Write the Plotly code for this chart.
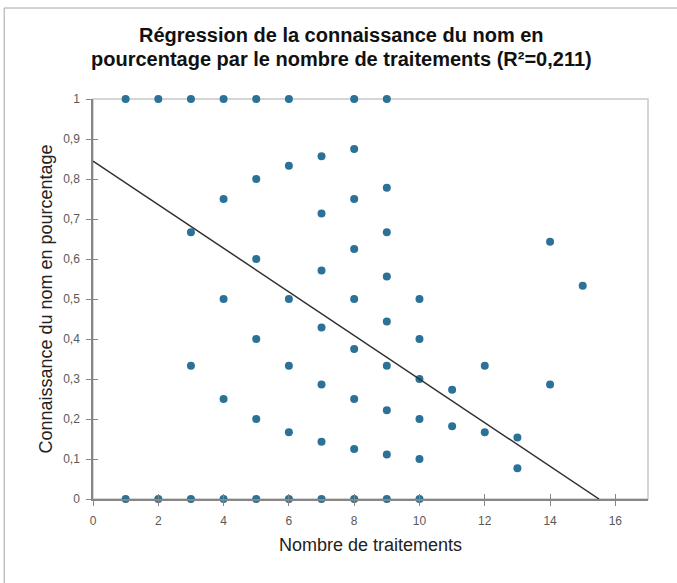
import plotly.graph_objects as go

# Nombre de traitements / connaissance du nom (fraction)
x_vals = [1, 1, 2, 2, 3, 3, 3, 3,
          4, 4, 4, 4, 4,
          5, 5, 5, 5, 5, 5,
          6, 6, 6, 6, 6, 6,
          7, 7, 7, 7, 7, 7, 7,
          8, 8, 8, 8, 8, 8, 8, 8, 8,
          9, 9, 9, 9, 9, 9, 9, 9, 9,
          10, 10, 10, 10, 10, 10,
          11, 11, 12, 12, 13, 13, 14, 14, 15]
y_vals = [1, 0, 1, 0, 1, 0.667, 0.333, 0,
          1, 0.75, 0.5, 0.25, 0,
          1, 0.8, 0.6, 0.4, 0.2, 0,
          1, 0.833, 0.5, 0.333, 0.167, 0,
          0.857, 0.714, 0.571, 0.429, 0.286, 0.143, 0,
          1, 0.875, 0.75, 0.625, 0.5, 0.375, 0.25, 0.125, 0,
          1, 0.778, 0.667, 0.556, 0.444, 0.333, 0.222, 0.111, 0,
          0.5, 0.4, 0.3, 0.2, 0.1, 0,
          0.273, 0.182, 0.333, 0.167, 0.154, 0.077, 0.643, 0.286, 0.533]

# droite de régression (extrémités)
trend_x = [0, 15.5]
trend_y = [0.845, 0]

x_ticks = [0, 2, 4, 6, 8, 10, 12, 14, 16]
y_ticks = [0, 0.1, 0.2, 0.3, 0.4, 0.5, 0.6, 0.7, 0.8, 0.9, 1]
y_labels = ["0", "0,1", "0,2", "0,3", "0,4", "0,5", "0,6", "0,7", "0,8", "0,9", "1"]

title_lines = ["Régression de la connaissance du nom en",
               "pourcentage par le nombre de traitements (R²=0,211)"]

font_main = "Liberation Sans, Arial"
axis_col = "#868686"
label_col = "#595959"

fig = go.Figure()
fig.add_trace(go.Scatter(x=x_vals, y=y_vals, mode="markers",
                         marker=dict(color="#2C7197", size=8), cliponaxis=False))
fig.add_trace(go.Scatter(x=trend_x, y=trend_y, mode="lines",
                         line=dict(color="#303030", width=1.5), cliponaxis=False))
# second pair of axes only to draw the inside half of the cross ticks
fig.add_trace(go.Scatter(x=[0], y=[0], xaxis="x2", yaxis="y2", mode="markers",
                         marker=dict(opacity=0), hoverinfo="skip"))

# title as two annotations so the line spacing can follow the original
for i, line in enumerate(title_lines):
    fig.add_annotation(text="<b>" + line + "</b>", xref="paper", yref="paper",
                       x=0.4486, y=1.16 - i * 0.06, xanchor="center", yanchor="middle",
                       showarrow=False, font=dict(size=20, color="#111"))

fig.update_layout(
    width=677, height=583,
    margin=dict(l=93, r=29, t=99, b=84),
    paper_bgcolor="white", plot_bgcolor="white",
    showlegend=False,
    font=dict(family=font_main, color="#222"),
    xaxis=dict(range=[0, 17], tickvals=x_ticks, ticks="outside", ticklen=5,
               tickcolor=axis_col, tickwidth=1.2, showgrid=False, zeroline=False,
               showline=True, linecolor=axis_col, linewidth=1.5,
               ticklabelstandoff=5,
               tickfont=dict(size=12, color=label_col),
               title=dict(text="Nombre de traitements", font=dict(size=18, color="#222"),
                          standoff=11)),
    yaxis=dict(range=[0, 1], tickvals=y_ticks, ticktext=y_labels, ticks="outside",
               ticklen=5, tickcolor=axis_col, tickwidth=1.2, showgrid=False,
               zeroline=False, showline=True, linecolor=axis_col, linewidth=1.5,
               ticklabelstandoff=4,
               tickfont=dict(size=12, color=label_col),
               title=dict(text="Connaissance du nom en pourcentage",
                          font=dict(size=18, color="#222"), standoff=6)),
    xaxis2=dict(overlaying="x", matches="x", tickvals=x_ticks, ticks="inside", ticklen=5,
                tickcolor=axis_col, tickwidth=1.2, showticklabels=False,
                showgrid=False, zeroline=False, showline=False),
    yaxis2=dict(overlaying="y", matches="y", tickvals=y_ticks, ticks="inside", ticklen=5,
                tickcolor=axis_col, tickwidth=1.2, showticklabels=False,
                showgrid=False, zeroline=False, showline=False),
    shapes=[
        # outer chart frame
        dict(type="rect", xref="paper", yref="paper",
             x0=-0.16, x1=1.1, y0=-0.3, y1=1.2275,
             line=dict(color="#a6a6a6", width=1), layer="below"),
        # plot area frame (light grey, top and right)
        dict(type="rect", xref="paper", yref="paper",
             x0=0, x1=1, y0=0, y1=1,
             line=dict(color="#c8c8c8", width=1.5), layer="below"),
    ],
)

# the page's default body margin would shift the chart by 8px
fig.write_html("out.html", config={"displayModeBar": False},
               post_script="document.body.style.margin='0px';")
